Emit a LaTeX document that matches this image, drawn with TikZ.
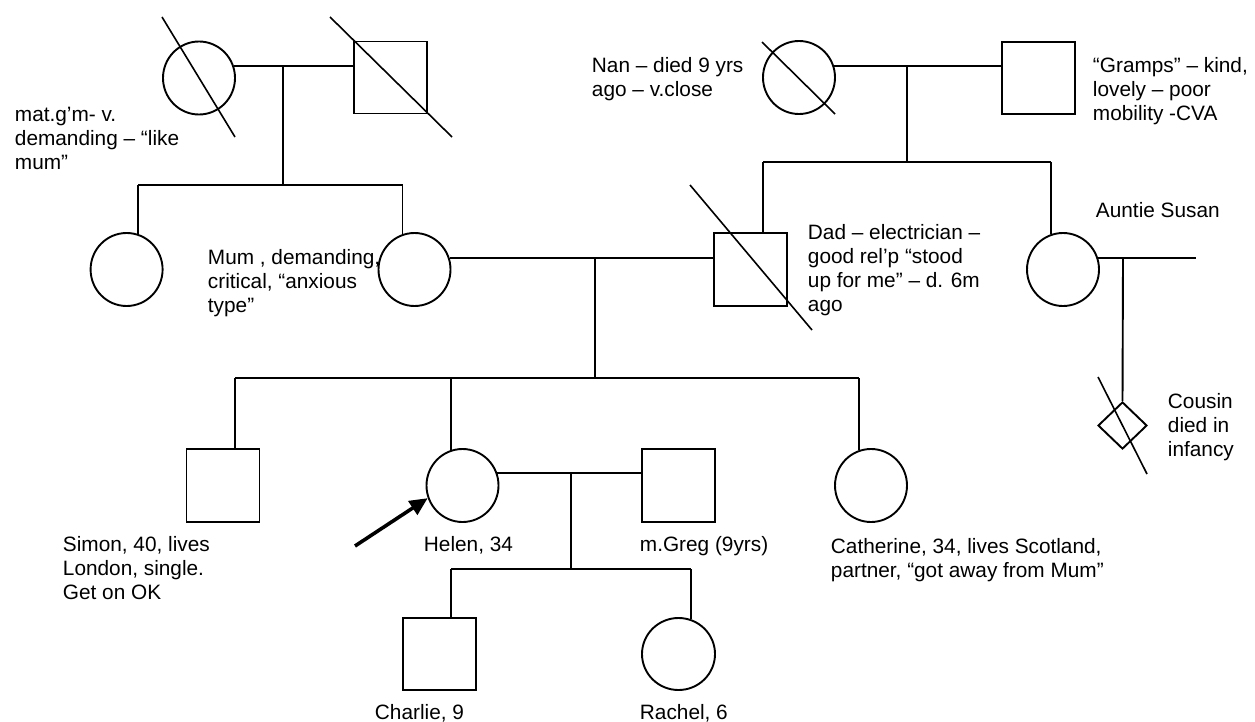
\documentclass[tikz,border=0pt]{standalone}
\usepackage{fontspec}
\setmainfont{Liberation Sans}
\usetikzlibrary{shapes.geometric,arrows.meta}
\newcommand\lblfont{\fontsize{20.8}{24}\selectfont}
\begin{document}
\begin{tikzpicture}[x=1pt,y=-1pt,
  line width=1.9pt,
  fem/.style={draw, ellipse, minimum width=72pt, minimum height=73pt, inner sep=0pt},
  mal/.style={draw, rectangle, minimum width=73pt, minimum height=73pt, inner sep=0pt},
  unk/.style={draw, diamond, minimum width=49pt, minimum height=47pt, inner sep=0pt},
  dec/.style={line width=1.6pt},
  lbl/.style={anchor=north west, inner sep=0pt, align=left, font=\lblfont},
  proband/.style={line width=3.6pt, -{Triangle[length=18pt,width=16pt]}}
]
\useasboundingbox (0,0) rectangle (1255,722);

% persons
\node[fem] (mgm) at (199,78) {};
\node[mal,minimum height=72pt] (mgf) at (390.5,77.5) {};
\node[fem] (nan) at (799,77.5) {};
\node[mal,minimum height=72pt] (gramps) at (1038.5,78) {};
\node[fem] (aunt) at (126.6,269.5) {};
\node[fem] (mum) at (414.5,269.5) {};
\node[mal] (dad) at (750.5,269.5) {};
\node[fem] (susan) at (1063,269.5) {};
\node[unk] (cousin) at (1122.5,425.5) {};
\node[mal] (simon) at (223,485.5) {};
\node[fem] (helen) at (462.5,485.5) {};
\node[mal] (greg) at (678.5,485.5) {};
\node[fem] (cath) at (871,485.5) {};
\node[mal,minimum height=72pt] (charlie) at (439.5,654) {};
\node[fem,minimum width=73pt,minimum height=72pt] (rachel) at (678.5,654) {};

% junction points
\coordinate (u1) at (283,66);
\coordinate (s1) at (283,185);
\coordinate (s1a) at (138,185);
\coordinate (s1b) at (402.5,185);
\coordinate (u2) at (907,66);
\coordinate (s2) at (907,162);
\coordinate (s2a) at (763,162);
\coordinate (s2b) at (1051,162);
\coordinate (u3) at (595,258);
\coordinate (s3) at (595,378);
\coordinate (s3a) at (235,378);
\coordinate (s3b) at (451,378);
\coordinate (s3c) at (859,378);
\coordinate (u4) at (1123,258);
\coordinate (sp) at (1196,258);
\coordinate (u5) at (571,473);
\coordinate (s5) at (571,569);
\coordinate (s5a) at (451,569);
\coordinate (s5b) at (691,569);
\coordinate (arrowtail) at (355,546);

% connectors
\draw (mgm.20 |- u1) -- (mgf.west |- u1);
\draw (u1) -- (s1);
\draw (s1a) -- (s1b);
\draw (s1a) -- (s1a |- aunt.72);
\draw (s1b) -- (s1b |- mum.108);

\draw (nan.20 |- u2) -- (gramps.west |- u2);
\draw (u2) -- (s2);
\draw (s2a) -- (s2b);
\draw (s2a) -- (dad.north -| s2a);
\draw (s2b) -- (s2b |- susan.108);

\draw (mum.18 |- u3) -- (dad.west |- u3);
\draw (u3) -- (s3);
\draw (s3a) -- (s3c);
\draw (s3a) -- (simon.north -| s3a);
\draw (s3b) -- (s3b |- helen.108);
\draw (s3c) -- (s3c |- cath.108);

\draw (susan.18 |- u4) -- (sp);
\draw (u4) -- (cousin.north);

\draw (helen.20 |- u5) -- (greg.west |- u5);
\draw (u5) -- (s5);
\draw (s5a) -- (s5b);
\draw (s5a) -- (charlie.north -| s5a);
\draw (s5b) -- (s5b |- rachel.70);

\draw[proband] (arrowtail) -- (helen.200);

% deceased strike lines
\draw[dec] (162,17) -- (235,137);
\draw[dec] (330,17) -- (452,137);
\draw[dec] (762,42) -- (835,114);
\draw[dec] (690,185) -- (812,330);
\draw[dec] (1098,377) -- (1147,474);

% labels
\node[lbl] (tmgm) at (14,104.2) {\strut mat.g’m- v.\\demanding – “like\\mum”};
\node[lbl] (tmum) at (207,247.2) {\strut Mum , demanding,\\critical, “anxious\\type”};
\node[lbl] (tnan) at (591,55.2) {\strut Nan – died 9 yrs\\ago – v.close};
\node[lbl] (tgramps) at (1092,55.2) {\strut “Gramps” – kind,\\lovely – poor\\mobility -CVA};
\node[lbl] (tdad) at (807,222.2) {\strut Dad – electrician –\\good rel’p “stood\\up for me” – d. 6m\\ago};
\node[lbl] (tsusan) at (1095,200.2) {\strut Auntie Susan};
\node[lbl] (tcousin) at (1167,391.2) {\strut Cousin\\died in\\infancy};
\node[lbl] (tsimon) at (62,534.2) {\strut Simon, 40, lives\\London, single.\\Get on OK};
\node[lbl] (thelen) at (423,534.2) {\strut Helen, 34};
\node[lbl] (tgreg) at (639,534.2) {\strut m.Greg (9yrs)};
\node[lbl] (tcath) at (830,536.2) {\strut Catherine, 34, lives Scotland,\\partner, “got away from Mum”};
\node[lbl] (tcharlie) at (374,702.2) {\strut Charlie, 9};
\node[lbl] (trachel) at (639,702.2) {\strut Rachel, 6};
\end{tikzpicture}
\end{document}
